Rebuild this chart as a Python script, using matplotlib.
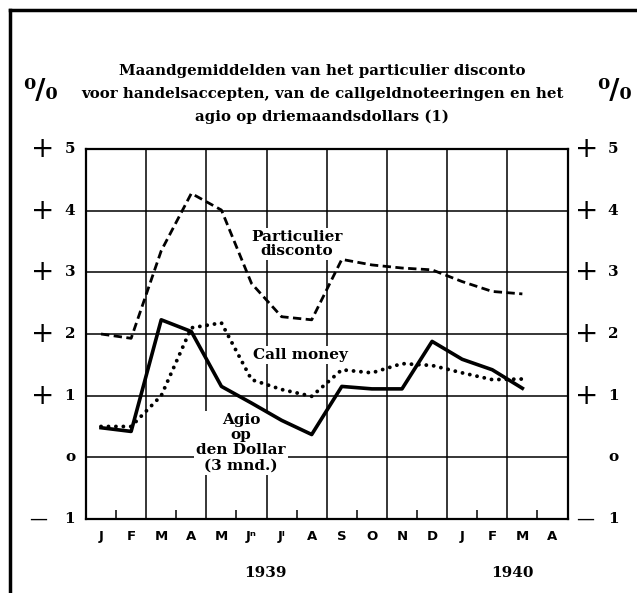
import numpy as np
import matplotlib
matplotlib.use('Agg')
import matplotlib.pyplot as plt
from matplotlib.lines import Line2D

# months Jan 1939 - Apr 1940
months = ['J', 'F', 'M', 'A', 'M', 'Jⁿ', 'Jˡ', 'A', 'S', 'O', 'N', 'D', 'J', 'F', 'M', 'A']
disconto = [2.00, 1.93, 3.35, 4.28, 4.01, 2.82, 2.28, 2.23, 3.21, 3.12, 3.07, 3.04, 2.85, 2.69, 2.65]
callmoney = [0.50, 0.50, 1.00, 2.10, 2.18, 1.26, 1.10, 0.99, 1.42, 1.37, 1.52, 1.49, 1.37, 1.26, 1.27]
agio = [0.48, 0.42, 2.23, 2.04, 1.15, 0.88, 0.60, 0.37, 1.15, 1.11, 1.11, 1.88, 1.59, 1.42, 1.12]
yticks = [5, 4, 3, 2, 1, 0, -1]
ylabels = ['5', '4', '3', '2', '1', 'o', '1']
years = ['1939', '1940']

x = np.arange(len(disconto)) + 0.5

serif = 'DejaVu Serif'
fig = plt.figure(figsize=(6.37, 5.93), dpi=100)
ax = fig.add_axes([86/637, 1-519/593, 481.5/637, 370/593])
ax.set_xlim(0, 16)
ax.set_ylim(-1, 5)

# grid
for v in range(2, 16, 2):
    ax.axvline(v, color='black', lw=1.1, zorder=1)
for h in range(0, 5):
    ax.axhline(h, color='black', lw=1.1, zorder=1)
for s in ax.spines.values():
    s.set_linewidth(1.6)

ax.set_xticks(x.tolist() + [15.5])
ax.set_xticklabels(months, fontsize=9.5, fontweight='heavy', family='DejaVu Sans')
ax.set_xticks(np.arange(1, 16, 2), minor=True)
ax.tick_params(axis='x', which='major', length=0, pad=8)
ax.tick_params(axis='x', which='minor', direction='in', length=6.5, width=1.1)
ax.set_yticks([])

# lines
ax.plot(x, disconto, color='black', lw=2.0, ls=(0, (3.0, 1.6)), zorder=4)
ax.plot(x, callmoney, color='black', lw=2.8, ls=(0, (0.01, 1.9)),
        dash_capstyle='round', zorder=4)
ax.plot(x, agio, color='black', lw=2.6, zorder=4)

# labels on the chart
lab = dict(ha='center', va='center', family=serif, fontweight='bold', fontsize=11,
           zorder=2, bbox=dict(facecolor='white', edgecolor='none', pad=1.5))
ax.text((297-86)/30.1, (457.7-244)/61.7, 'Particulier\ndisconto', linespacing=1.0, **lab)
ax.text((300-86)/30.1, (457.7-355)/61.7, 'Call money', **lab)
ax.text((241-86)/30.1, (457.7-443)/61.7, 'Agio\nop\nden Dollar\n(3 mnd.)',
        linespacing=1.12, **lab)

# y labels both sides
tr = ax.get_yaxis_transform()
for yv, yl in zip(yticks, ylabels):
    if yv > 0:
        for px in (43, 587):
            ax.text((px-86)/481.5, yv, '+', transform=tr, ha='center', va='center',
                    fontsize=20, family='DejaVu Sans', clip_on=False)
    elif yv < 0:
        ax.text((38-86)/481.5, yv, '—', transform=tr, ha='center', va='center',
                fontsize=13, family='DejaVu Sans', clip_on=False)
        ax.text((585-86)/481.5, yv, '—', transform=tr, ha='center', va='center',
                fontsize=13, family='DejaVu Sans', clip_on=False)
    for px in (70, 613):
        ax.text((px-86)/481.5, yv, yl, transform=tr, ha='center', va='center',
                fontsize=11, family=serif, fontweight='bold', clip_on=False)

# title and percent signs
title = ('Maandgemiddelden van het particulier disconto\n'
         'voor handelsaccepten, van de callgeldnoteeringen en het\n'
         'agio op driemaandsdollars (1)')
fig.text(322/637, 1-94/593, title, ha='center', va='center', family=serif,
         fontweight='bold', fontsize=10.8, linespacing=1.75)
for px in (40, 614):
    fig.text(px/637, 1-92/593, '⁰/₀', ha='center', va='center', family=serif,
             fontweight='bold', fontsize=20)

# years
fig.text(265/637, 1-573/593, years[0], ha='center', va='center', family=serif,
         fontweight='bold', fontsize=11)
fig.text(512/637, 1-573/593, years[1], ha='center', va='center', family=serif,
         fontweight='bold', fontsize=11)

# page border
fig.add_artist(Line2D([10/637, 10/637], [0, 1-10/593], color='black', lw=2.5))
fig.add_artist(Line2D([10/637, 1], [1-10/593, 1-10/593], color='black', lw=2.5))

fig.savefig('out.png', dpi=100)
